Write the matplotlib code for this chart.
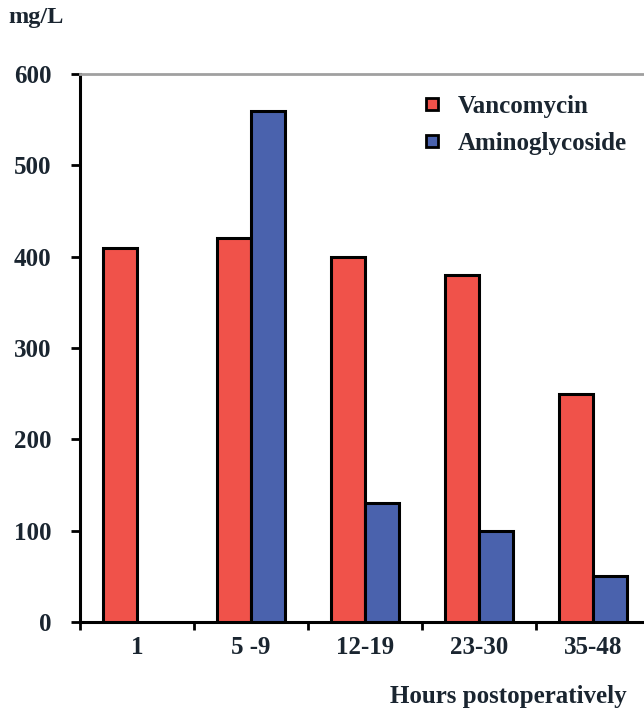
import numpy as np
import matplotlib
matplotlib.use("Agg")
import matplotlib.pyplot as plt
from matplotlib.lines import Line2D

categories = ["1", "5 -9", "12-19", "23-30", "35-48"]
vancomycin = [410, 420, 400, 380, 250]
aminoglycoside = [np.nan, 560, 130, 100, 50]
series_names = ["Vancomycin", "Aminoglycoside"]
y_ticks = [0, 100, 200, 300, 400, 500, 600]

RED = "#f0524a"
BLUE = "#4a62ad"
TXT = "#1a2530"

plt.rcParams["font.family"] = ["Liberation Serif", "DejaVu Serif"]
plt.rcParams["font.weight"] = "bold"

fig = plt.figure(figsize=(6.44, 7.12), dpi=100)
ax = fig.add_axes([80/644, 90/712, 564/644, 548/712])

x = np.arange(len(categories)) + 0.5
w = 0.3
ax.bar(x - w/2, vancomycin, width=w, color=RED, edgecolor="black", linewidth=2.2, zorder=3)
am = np.array(aminoglycoside, dtype=float)
mask = ~np.isnan(am)
ax.bar((x + w/2)[mask], am[mask], width=w, color=BLUE, edgecolor="black", linewidth=2.2, zorder=3)

ax.set_xlim(0, 564/114)
ax.set_ylim(0, 600)

ax.set_xticks(np.arange(len(categories)))
ax.set_xticklabels([])
ax.set_xticks(x, minor=True)
ax.set_xticklabels(categories, minor=True, fontsize=18, fontweight="bold", color=TXT)
ax.tick_params(axis="x", which="major", direction="out", length=6, width=2, color="black")
ax.tick_params(axis="x", which="minor", length=0, pad=10)

ax.set_yticks(y_ticks)
ax.set_yticklabels([str(v) for v in y_ticks], fontsize=18, fontweight="bold", color=TXT)
ax.tick_params(axis="y", direction="out", length=6.5, width=2, color="black", pad=14)

ax.spines["left"].set_linewidth(2.2)
ax.spines["bottom"].set_linewidth(2.2)
ax.spines["top"].set_color("#a0a0a0")
ax.spines["top"].set_linewidth(2)
ax.spines["right"].set_visible(False)

handles = [Line2D([], [], marker="s", linestyle="none", markersize=8.5,
                  markerfacecolor=c, markeredgecolor="black", markeredgewidth=2)
           for c in (RED, BLUE)]
leg = fig.legend(handles, series_names, loc="upper left", bbox_to_anchor=(398/644, 1 - 72/712),
                 frameon=False, handlelength=0.9, handletextpad=0.6, labelspacing=0.58,
                 prop={"family": ["Liberation Serif"], "weight": "bold", "size": 18})
for t in leg.get_texts():
    t.set_color(TXT)

fig.text(8/644, 1 - 18/712, "mg/L", fontsize=17.5, fontweight="bold", color=TXT, va="center", ha="left")
fig.text(627/644, 1 - 697/712, "Hours postoperatively", fontsize=18, fontweight="bold",
         color=TXT, va="center", ha="right")

fig.savefig("out.png", dpi=100)
